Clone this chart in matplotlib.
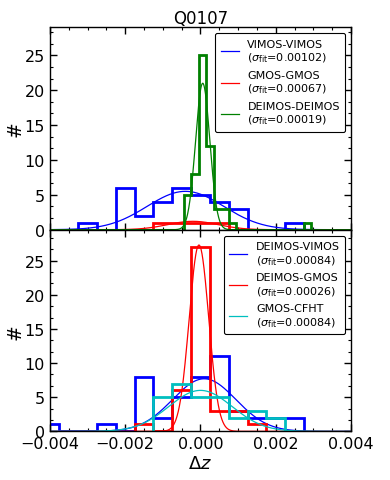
import numpy as np
import matplotlib
matplotlib.use("Agg")
import matplotlib.pyplot as plt
from matplotlib.ticker import AutoMinorLocator

# ---------------- data ----------------
title = "Q0107"

# top panel histograms (bin centres, counts)
vv_centers = [-0.0030, -0.0025, -0.0020, -0.0015, -0.0010, -0.0005, 0.0, 0.0005, 0.0010, 0.0015, 0.0020, 0.0025]
vv_counts = [1, 0, 6, 2, 4, 6, 5, 4, 3, 0, 0, 1]
gg_centers = [-0.0010, -0.0005, 0.0, 0.0005]
gg_counts = [1, 1, 1, 1]
dd_centers = [-0.00035, -0.00015, 0.00005, 0.00025, 0.00045, 0.00065, 0.00085, 0.00105,
              0.00125, 0.00145, 0.00165, 0.00185, 0.00205, 0.00225, 0.00245, 0.00265, 0.00285]
dd_counts = [5, 8, 25, 12, 3, 3, 1, 0, 0, 0, 0, 0, 0, 0, 0, 0, 1]

# bottom panel histograms
dv_centers = [-0.0040, -0.0035, -0.0030, -0.0025, -0.0020, -0.0015, -0.0010, -0.0005, 0.0,
              0.0005, 0.0010, 0.0015, 0.0020, 0.0025]
dv_counts = [1, 0, 0, 1, 0, 8, 2, 5, 8, 11, 3, 2, 2, 2]
dg_centers = [-0.0015, -0.0010, -0.0005, 0.0, 0.0005, 0.0010, 0.0015]
dg_counts = [1, 0, 6, 27, 3, 3, 1]
gc_centers = [-0.0010, -0.0005, 0.0, 0.0005, 0.0010, 0.0015, 0.0020]
gc_counts = [5, 7, 5, 5, 2, 3, 2]

# gaussian fits: amplitude, mean, sigma
vv_fit = (5.5, -0.0004, 0.00102)
gg_fit = (1.2, -0.0002, 0.00067)
dd_fit = (21.0, 0.00006, 0.00019)
dv_fit = (7.7, 0.0001, 0.00084)
dg_fit = (27.3, -0.00004, 0.00026)
gc_fit = (6.0, 0.0, 0.00084)

top_labels = ["VIMOS-VIMOS", "GMOS-GMOS", "DEIMOS-DEIMOS"]
bot_labels = ["DEIMOS-VIMOS", "DEIMOS-GMOS", "GMOS-CFHT"]

xlim = (-0.004, 0.004)
xticks = [-0.004, -0.002, 0.000, 0.002, 0.004]
xticklabels = ['\u22120.004', '\u22120.002', '0.000', '0.002', '0.004']
yticks = [0, 5, 10, 15, 20, 25]

# ---------------- plotting ----------------
plt.rcParams['font.family'] = ['DejaVu Sans']
plt.rcParams['mathtext.fontset'] = 'dejavusans'

fig = plt.figure(figsize=(3.9, 4.81), dpi=100)
ax1 = fig.add_axes([0.128, 0.5204, 0.772, 0.4204])
ax2 = fig.add_axes([0.128, 0.1012, 0.772, 0.4185])


def edges_from(centers, width):
    c = np.asarray(centers)
    return np.append(c - width / 2, c[-1] + width / 2)


xs = np.linspace(-0.0045, 0.0045, 1200)


def gauss(p):
    a, m, s = p
    return a * np.exp(-0.5 * ((xs - m) / s) ** 2)


def draw(ax, centers, counts, width, fit, color, label):
    ax.hist(centers, bins=edges_from(centers, width), weights=counts,
            histtype='step', color=color, linewidth=2)
    ax.plot(xs, gauss(fit), color=color, linewidth=0.9,
            label=label + "\n" + r"($\sigma_{\rm fit}$=%.5f)" % fit[2])


draw(ax1, vv_centers, vv_counts, 0.0005, vv_fit, 'b', top_labels[0])
draw(ax1, gg_centers, gg_counts, 0.0005, gg_fit, 'r', top_labels[1])
draw(ax1, dd_centers, dd_counts, 0.0002, dd_fit, 'g', top_labels[2])

draw(ax2, dv_centers, dv_counts, 0.0005, dv_fit, 'b', bot_labels[0])
draw(ax2, dg_centers, dg_counts, 0.0005, dg_fit, 'r', bot_labels[1])
draw(ax2, gc_centers, gc_counts, 0.0005, gc_fit, 'c', bot_labels[2])

ax1.set_ylim(0, 29)
ax2.set_ylim(0, 29.5)

for ax in (ax1, ax2):
    ax.set_xlim(*xlim)
    ax.set_xticks(xticks)
    ax.set_yticks(yticks)
    ax.xaxis.set_minor_locator(AutoMinorLocator(4))
    ax.yaxis.set_minor_locator(AutoMinorLocator(3))
    ax.tick_params(which='both', direction='in', top=True, right=True, labelsize=11.5)
    ax.tick_params(which='major', length=5, width=1)
    ax.tick_params(which='minor', length=2.5, width=0.8)
    for sp in ax.spines.values():
        sp.set_linewidth(1.0)
    ax.set_ylabel('#', fontsize=13.5)
    ax.yaxis.set_label_coords(-0.085, 0.5)
    leg = ax.legend(loc='upper right', fontsize=8, fancybox=True, handlelength=1.6,
                    handletextpad=0.8, labelspacing=0.5, borderpad=0.5, framealpha=1)
    leg.get_frame().set_edgecolor('black')
    leg.get_frame().set_linewidth(0.8)

ax1.tick_params(labelbottom=False)
ax2.set_xticklabels(xticklabels)
ax2.set_xlabel(r'$\Delta z$', fontsize=13, labelpad=2)
ax1.set_title(title, fontsize=12, pad=3)

fig.savefig('out.png', dpi=100)
